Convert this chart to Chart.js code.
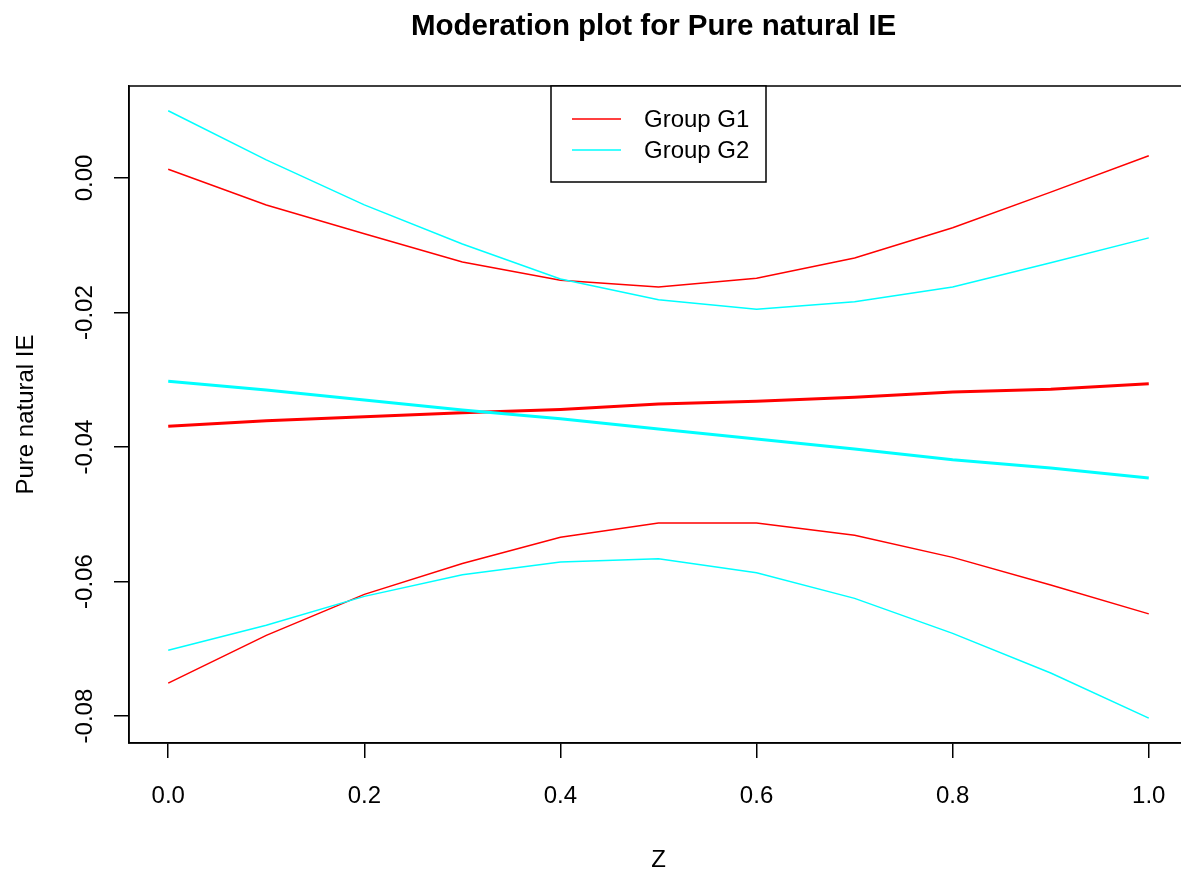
<!DOCTYPE html>
<html>
<head>
<meta charset="utf-8">
<title>Moderation plot for Pure natural IE</title>
<script src="https://cdn.jsdelivr.net/npm/chart.js@4.4.1/dist/chart.umd.min.js"></script>
<style>
  html, body { margin: 0; padding: 0; background: #fff; overflow: hidden; }
  #wrap { width: 1200px; height: 871px; }
</style>
</head>
<body>
<div id="wrap"><canvas id="chart" width="1200" height="871"></canvas></div>
<script>
// moderator values
const z = [0, 0.1, 0.2, 0.3, 0.4, 0.5, 0.6, 0.7, 0.8, 0.9, 1.0];

// group G1 (red): estimate and band
const g1Est   = [-0.0369, -0.0361, -0.0355, -0.0349, -0.0344, -0.0336, -0.0332, -0.0326, -0.0318, -0.0314, -0.0306];
const g1Upper = [0.0013, -0.0040, -0.0083, -0.0125, -0.0152, -0.0162, -0.0149, -0.0119, -0.0074, -0.0021, 0.0033];
const g1Lower = [-0.0751, -0.0680, -0.0619, -0.0573, -0.0534, -0.0513, -0.0513, -0.0531, -0.0564, -0.0605, -0.0648];

// group G2 (cyan): estimate and band
const g2Est   = [-0.0302, -0.0315, -0.0330, -0.0345, -0.0358, -0.0373, -0.0388, -0.0403, -0.0419, -0.0431, -0.0446];
const g2Upper = [0.0100, 0.0027, -0.0040, -0.0098, -0.0150, -0.0181, -0.0195, -0.0184, -0.0162, -0.0126, -0.0089];
const g2Lower = [-0.0702, -0.0665, -0.0622, -0.0590, -0.0571, -0.0566, -0.0587, -0.0625, -0.0677, -0.0736, -0.0803];

const xTicks = [0, 0.2, 0.4, 0.6, 0.8, 1.0];
const xTickLabels = ['0.0', '0.2', '0.4', '0.6', '0.8', '1.0'];
const yTicks = [0, -0.02, -0.04, -0.06, -0.08];
const yTickLabels = ['0.00', '-0.02', '-0.04', '-0.06', '-0.08'];
const groupNames = ['Group G1', 'Group G2'];

const RED = '#ff0000';
const CYAN = '#00ffff';
const FONT = '"Liberation Sans", Arial, Helvetica, sans-serif';
const titleText = 'Moderation plot for Pure natural IE';
const xTitle = 'Z';
const yTitle = 'Pure natural IE';

Chart.defaults.font.family = FONT;

function series(values, color, width, label) {
  return {
    label,
    data: z.map((v, i) => ({ x: v, y: values[i] })),
    borderColor: color,
    borderWidth: width,
    pointRadius: 0,
    tension: 0,
    fill: false
  };
}

// title, axis titles, y tick labels, box and legend like base R
const decor = {
  id: 'decor',
  afterDraw(chart) {
    const { ctx, chartArea: a, scales: { y } } = chart;
    const cx = (a.left + a.right) / 2;
    const cy = (a.top + a.bottom) / 2;
    ctx.save();
    ctx.fillStyle = '#000';

    ctx.font = 'bold 29.5px ' + FONT;
    ctx.textAlign = 'center';
    ctx.textBaseline = 'alphabetic';
    ctx.fillText(titleText, cx - 5, 35);

    ctx.font = '24px ' + FONT;
    ctx.fillText(xTitle, cx, 867);

    ctx.save();
    ctx.translate(33, cy);
    ctx.rotate(-Math.PI / 2);
    ctx.fillText(yTitle, 0, 0);
    ctx.restore();

    y.ticks.forEach((t, i) => {
      ctx.save();
      ctx.translate(92, y.getPixelForValue(t.value));
      ctx.rotate(-Math.PI / 2);
      ctx.fillText(yTickLabels[i], 0, 0);
      ctx.restore();
    });

    ctx.strokeStyle = '#000';
    ctx.lineWidth = 1.5;
    ctx.strokeRect(a.left, a.top, a.right - a.left, a.bottom - a.top);

    // legend at top centre of the plot region
    const lw = 215, lh = 96;
    const lx = cx - lw / 2, ly = a.top;
    ctx.fillStyle = '#fff';
    ctx.fillRect(lx, ly, lw, lh);
    ctx.strokeRect(lx, ly, lw, lh);
    ctx.textAlign = 'left';
    ctx.textBaseline = 'middle';
    [RED, CYAN].forEach((c, i) => {
      const yy = ly + 33 + i * 31;
      ctx.strokeStyle = c;
      ctx.lineWidth = 1.5;
      ctx.beginPath();
      ctx.moveTo(lx + 21, yy);
      ctx.lineTo(lx + 70, yy);
      ctx.stroke();
      ctx.fillStyle = '#000';
      ctx.fillText(groupNames[i], lx + 93, yy + 1);
    });
    ctx.restore();
  }
};

const tickGrid = { display: true, drawOnChartArea: false, drawTicks: true, tickLength: 15, color: '#000', lineWidth: 1.5 };
const axisBorder = { display: true, color: '#000', width: 1.5 };

new Chart(document.getElementById('chart'), {
  type: 'line',
  data: {
    datasets: [
      series(g2Upper, CYAN, 1.5, groupNames[1] + ' upper'),
      series(g2Est, CYAN, 3, groupNames[1]),
      series(g2Lower, CYAN, 1.5, groupNames[1] + ' lower'),
      series(g1Upper, RED, 1.5, groupNames[0] + ' upper'),
      series(g1Est, RED, 3, groupNames[0]),
      series(g1Lower, RED, 1.5, groupNames[0] + ' lower')
    ]
  },
  options: {
    responsive: false,
    animation: false,
    devicePixelRatio: 1,
    layout: { padding: { top: 86, right: 12, bottom: 0, left: 0 } },
    plugins: { legend: { display: false }, tooltip: { enabled: false }, title: { display: false } },
    scales: {
      x: {
        type: 'linear',
        min: -0.04,
        max: 1.04,
        afterBuildTicks: s => { s.ticks = xTicks.map(v => ({ value: v })); },
        afterFit: s => { s.height = 128; },
        ticks: {
          callback: (v, i) => xTickLabels[i],
          font: { size: 24 },
          color: '#000',
          padding: 24,
          maxRotation: 0,
          autoSkip: false
        },
        grid: tickGrid,
        border: axisBorder
      },
      y: {
        type: 'linear',
        min: -0.0840,
        max: 0.01368,
        afterBuildTicks: s => { s.ticks = yTicks.map(v => ({ value: v })); },
        afterFit: s => { s.width = 129; },
        ticks: { display: false },
        grid: tickGrid,
        border: axisBorder
      }
    }
  },
  plugins: [decor]
});
</script>
</body>
</html>
